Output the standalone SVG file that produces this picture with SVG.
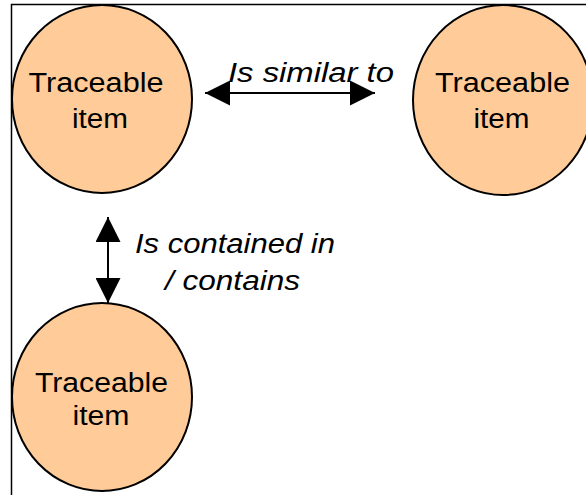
<svg xmlns="http://www.w3.org/2000/svg" width="586" height="495" viewBox="0 0 586 495">
<style>
.node{fill:#FFCC99;stroke:#000;stroke-width:2}
.lbl{font-family:"Liberation Sans",Arial,sans-serif;font-size:27px;fill:#000;text-anchor:middle}
.edge{font-family:"Liberation Sans",Arial,sans-serif;font-size:27px;font-style:italic;fill:#000}
.conn{stroke:#000;stroke-width:2;fill:none}
</style>
<defs>
<marker id="ah" viewBox="0 0 25 25" refX="25" refY="12.5" markerWidth="25" markerHeight="25" markerUnits="userSpaceOnUse" orient="auto-start-reverse">
<path d="M0,0 L25,12.5 L0,25 Z" fill="#000"/>
</marker>
</defs>
<rect x="11.5" y="4.5" width="600" height="520" fill="#fff" stroke="#000" stroke-width="1.5"/>
<g id="connectors">
<line class="conn" x1="205" y1="93" x2="375" y2="93" marker-start="url(#ah)" marker-end="url(#ah)"/>
<line class="conn" x1="108" y1="217" x2="108" y2="303" marker-start="url(#ah)" marker-end="url(#ah)"/>
<text class="edge" x="228" y="82" textLength="166" lengthAdjust="spacingAndGlyphs">Is similar to</text>
<text class="edge" x="135" y="253" textLength="200" lengthAdjust="spacingAndGlyphs">Is contained in</text>
<text class="edge" x="165" y="290" textLength="135" lengthAdjust="spacingAndGlyphs">/ contains</text>
</g>
<g id="node1">
<ellipse class="node" cx="102" cy="99" rx="90" ry="94"/>
<text class="lbl" x="96" y="92" textLength="135" lengthAdjust="spacingAndGlyphs">Traceable</text>
<text class="lbl" x="100" y="128" textLength="56" lengthAdjust="spacingAndGlyphs">item</text>
</g>
<g id="node2">
<ellipse class="node" cx="503" cy="100" rx="90" ry="95"/>
<text class="lbl" x="502.5" y="92" textLength="135" lengthAdjust="spacingAndGlyphs">Traceable</text>
<text class="lbl" x="501.5" y="128" textLength="56" lengthAdjust="spacingAndGlyphs">item</text>
</g>
<g id="node3">
<ellipse class="node" cx="102" cy="397" rx="90" ry="94"/>
<text class="lbl" x="101.5" y="392" textLength="133" lengthAdjust="spacingAndGlyphs">Traceable</text>
<text class="lbl" x="101" y="425" textLength="57" lengthAdjust="spacingAndGlyphs">item</text>
</g>
</svg>
